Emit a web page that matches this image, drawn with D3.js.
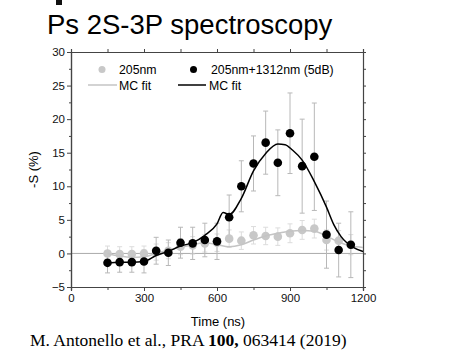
<!DOCTYPE html>
<html>
<head>
<meta charset="utf-8">
<script src="https://cdn.jsdelivr.net/npm/d3@7"></script>
<style>
  body { margin: 0; background: #fff; }
  svg text { font-family: Arial, "Liberation Sans", sans-serif; }
</style>
</head>
<body>
<svg id="chart" width="475" height="361"></svg>
<script>
// Time points (ns)
var times = [150, 200, 250, 300, 350, 400, 450, 500, 550, 600, 650, 700, 750, 800, 850, 900, 950, 1000, 1050, 1100, 1150];

// 205nm only (grey)
var greyVals = [0.0, -0.1, -0.1, 0.0, 0.2, 0.4, 1.0, 1.2, 1.5, 1.6, 2.2, 1.9, 2.7, 2.6, 2.5, 3.0, 3.5, 3.7, 2.0, 1.9, 1.3];
var greyErr  = [1.1, 1.1, 1.1, 1.1, 1.2, 1.2, 1.2, 1.3, 1.3, 1.3, 1.3, 1.3, 1.3, 1.3, 1.3, 1.4, 1.4, 1.4, 1.5, 1.5, 1.5];

// 205nm + 1312nm (black)
var blackVals = [-1.4, -1.3, -1.3, -1.2, 0.4, 0.1, 1.6, 1.5, 2.0, 1.8, 5.4, 10.0, 13.4, 16.5, 13.5, 17.9, 13.0, 14.4, 2.8, 0.5, 1.3];
var blackErr  = [1.5, 1.5, 1.5, 1.7, 2.0, 1.9, 2.3, 2.4, 2.5, 2.7, 3.3, 3.8, 4.1, 4.7, 4.9, 6.0, 7.0, 8.0, 5.0, 4.0, 4.9];

// MC fit curves
var fitGreyT = [150, 200, 250, 300, 350, 400, 450, 500, 550, 600, 650, 700, 750, 800, 850, 900, 950, 1000, 1050, 1100, 1150, 1200];
var fitGreyV = [0.0, -0.4, -0.6, -0.5, 0.0, 0.5, 0.9, 1.3, 1.6, 1.3, 1.0, 1.3, 2.0, 2.6, 3.0, 3.3, 3.4, 3.3, 2.6, 1.7, 1.1, 0.9];

var fitBlackT = [150, 200, 250, 300, 350, 400, 450, 500, 550, 600, 625, 650, 700, 750, 800, 850, 880, 910, 950, 1000, 1050, 1080, 1110, 1160, 1200];
var fitBlackV = [-1.4, -1.3, -1.3, -1.2, -0.3, 0.3, 1.1, 1.6, 2.7, 4.4, 6.1, 5.8, 8.2, 12.3, 14.9, 16.3, 16.2, 15.4, 13.9, 10.7, 6.9, 4.3, 2.5, 0.9, 0.3];

var xTicks = [0, 300, 600, 900, 1200];
var yTicks = [-5, 0, 5, 10, 15, 20, 25, 30];

var svg = d3.select("#chart");

// plot area
var plotLeft = 71, plotRight = 363, plotTop = 52, plotBottom = 287;

var x = d3.scaleLinear().domain([0, 1200]).range([plotLeft, plotRight]);
var y = d3.scaleLinear().domain([-5, 30]).range([plotBottom, plotTop]);

var axisColor = "#444";

// Title
svg.append("text")
    .attr("x", 47)
    .attr("y", 34)
    .attr("font-size", 27.5)
    .attr("fill", "#000")
    .text("Ps 2S-3P spectroscopy");

// fragment cut off at the top
svg.append("rect")
    .attr("x", 56).attr("y", 0)
    .attr("width", 6).attr("height", 5)
    .attr("fill", "#111");

// zero line
svg.append("line")
    .attr("x1", x(0)).attr("x2", x(1200))
    .attr("y1", y(0)).attr("y2", y(0))
    .attr("stroke", "#aaa")
    .attr("stroke-width", 1);

// Axes
var xAxis = d3.axisBottom(x).tickValues(xTicks).tickSize(4).tickPadding(3).tickFormat(d3.format("d"));
var xMinor = d3.axisBottom(x).tickValues(d3.range(150, 1200, 300)).tickSize(3).tickFormat("");
var xTop = d3.axisTop(x).tickValues(d3.range(0, 1201, 150)).tickSize(3).tickFormat("");
var yAxis = d3.axisLeft(y).tickValues(yTicks).tickSize(4).tickPadding(2);
var yMinor = d3.axisLeft(y).tickValues(d3.range(-2.5, 30, 5)).tickSize(2).tickFormat("");
var yRight = d3.axisRight(y).tickValues(d3.range(-5, 30.1, 2.5)).tickSize(3).tickFormat("");

function styleAxis(g) {
    g.select(".domain").attr("stroke", axisColor).attr("stroke-width", 1.2);
    g.selectAll(".tick line").attr("stroke", axisColor);
    g.selectAll(".tick text").attr("font-size", 11.5).attr("fill", "#111")
        .attr("font-family", "Arial, 'Liberation Sans', sans-serif");
}

svg.append("g").attr("transform", "translate(0," + plotBottom + ")").call(xAxis).call(styleAxis);
svg.append("g").attr("transform", "translate(0," + plotBottom + ")").call(xMinor).call(styleAxis);
svg.append("g").attr("transform", "translate(0," + plotTop + ")").call(xTop).call(styleAxis);
svg.append("g").attr("transform", "translate(" + plotLeft + ",0)").call(yAxis).call(styleAxis);
svg.append("g").attr("transform", "translate(" + plotLeft + ",0)").call(yMinor).call(styleAxis);
svg.append("g").attr("transform", "translate(" + plotRight + ",0)").call(yRight).call(styleAxis);

// Axis labels
svg.append("text")
    .attr("x", (plotLeft + plotRight) / 2 + 1)
    .attr("y", 326)
    .attr("text-anchor", "middle")
    .attr("font-size", 13)
    .text("Time (ns)");

svg.append("text")
    .attr("transform", "translate(38," + y(12.5) + ") rotate(-90)")
    .attr("text-anchor", "middle")
    .attr("font-size", 13)
    .text("-S (%)");

// Error bars
function errorBars(vals, errs, color) {
    var g = svg.append("g");
    times.forEach(function(t, i) {
        var lo = y(vals[i] - errs[i]), hi = y(vals[i] + errs[i]);
        g.append("line")
            .attr("x1", x(t)).attr("x2", x(t))
            .attr("y1", lo).attr("y2", hi)
            .attr("stroke", color).attr("stroke-width", 1);
        [lo, hi].forEach(function(yy) {
            g.append("line")
                .attr("x1", x(t) - 2.5).attr("x2", x(t) + 2.5)
                .attr("y1", yy).attr("y2", yy)
                .attr("stroke", color).attr("stroke-width", 1);
        });
    });
}

errorBars(greyVals, greyErr, "#dcdcdc");
errorBars(blackVals, blackErr, "#b8b8b8");

var line = d3.line()
    .x(function(d) { return x(d[0]); })
    .y(function(d) { return y(d[1]); })
    .curve(d3.curveMonotoneX);

// grey points and fit
svg.append("g").selectAll("circle")
    .data(times)
    .enter().append("circle")
    .attr("cx", function(d) { return x(d); })
    .attr("cy", function(d, i) { return y(greyVals[i]); })
    .attr("r", 4.3)
    .attr("fill", "#c8c8c8");

svg.append("path")
    .datum(fitGreyT.map(function(t, i) { return [t, fitGreyV[i]]; }))
    .attr("d", line)
    .attr("fill", "none")
    .attr("stroke", "#c4c4c4")
    .attr("stroke-width", 1.5);

// black points and fit
svg.append("g").selectAll("circle")
    .data(times)
    .enter().append("circle")
    .attr("cx", function(d) { return x(d); })
    .attr("cy", function(d, i) { return y(blackVals[i]); })
    .attr("r", 4.3)
    .attr("fill", "#000");

svg.append("path")
    .datum(fitBlackT.map(function(t, i) { return [t, fitBlackV[i]]; }))
    .attr("d", line)
    .attr("fill", "none")
    .attr("stroke", "#000")
    .attr("stroke-width", 1.5);

// Legend
var legend = svg.append("g").attr("font-size", 12.3);
legend.append("circle").attr("cx", 102).attr("cy", 69.5).attr("r", 3.5).attr("fill", "#c8c8c8");
legend.append("text").attr("x", 119).attr("y", 74).text("205nm");
legend.append("line").attr("x1", 88).attr("x2", 117).attr("y1", 85).attr("y2", 85)
    .attr("stroke", "#c4c4c4").attr("stroke-width", 1.5);
legend.append("text").attr("x", 119).attr("y", 89.5).text("MC fit");

legend.append("circle").attr("cx", 193.5).attr("cy", 69.5).attr("r", 3.5).attr("fill", "#000");
legend.append("text").attr("x", 211).attr("y", 74).text("205nm+1312nm (5dB)");
legend.append("line").attr("x1", 178).attr("x2", 206).attr("y1", 85).attr("y2", 85)
    .attr("stroke", "#000").attr("stroke-width", 1.5);
legend.append("text").attr("x", 209).attr("y", 89.5).text("MC fit");

// Citation
var cite = svg.append("text")
    .attr("x", 30)
    .attr("y", 346)
    .attr("font-size", 17.5)
    .style("font-family", "'Liberation Serif', 'Times New Roman', serif");
cite.append("tspan").text("M. Antonello et al., PRA ");
cite.append("tspan").attr("font-weight", "bold").text("100,");
cite.append("tspan").text(" 063414 (2019)");
</script>
</body>
</html>
